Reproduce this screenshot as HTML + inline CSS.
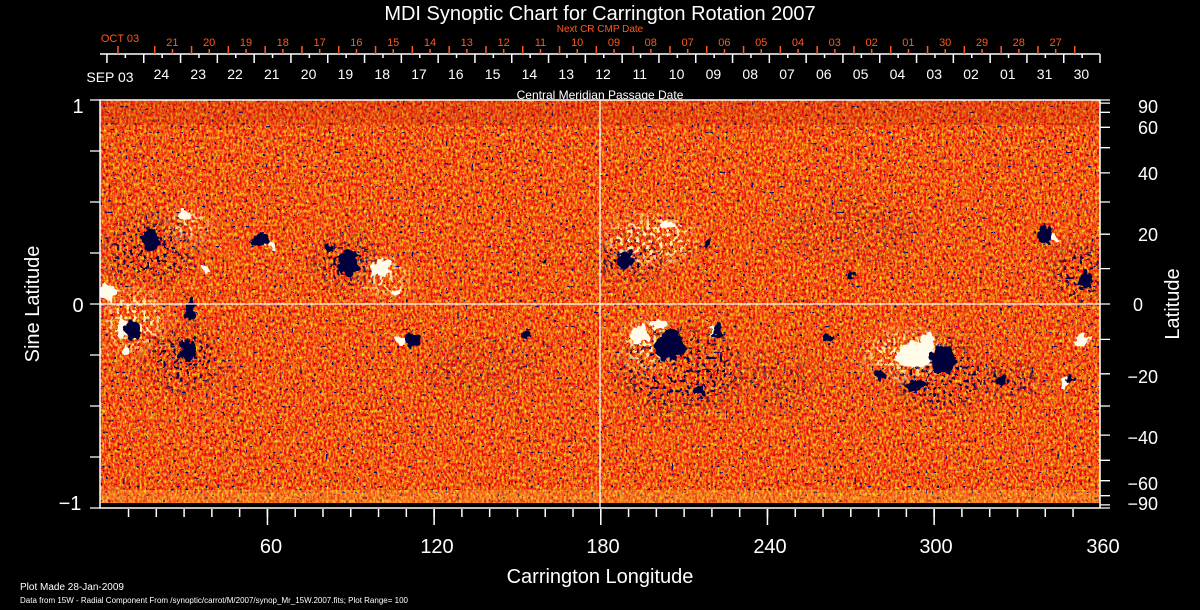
<!DOCTYPE html>
<html><head><meta charset="utf-8"><style>
html,body{margin:0;padding:0;background:#000;}
svg{display:block}
text{font-family:"Liberation Sans",sans-serif;}
filter{color-interpolation-filters:sRGB}
</style></head><body>
<svg width="1200" height="610" viewBox="0 0 1200 610" xmlns="http://www.w3.org/2000/svg">
<defs>
<filter id="tex" x="0" y="0" width="100%" height="100%" color-interpolation-filters="sRGB">
<feTurbulence type="fractalNoise" baseFrequency="0.45 0.3" numOctaves="2" seed="3" result="n"/>
<feColorMatrix in="n" type="matrix" values="0 0 0 0 0.95  1.7 0 0 0 -0.5  0 0 0 0 0.08  0 0 0 0 1"/>
</filter>
<filter id="dots" x="0" y="0" width="100%" height="100%" color-interpolation-filters="sRGB">
<feTurbulence type="fractalNoise" baseFrequency="0.35" numOctaves="1" seed="11"/>
<feColorMatrix type="matrix" values="0 0 0 0 0.02  0 0 0 0 0.02  0 0 0 0 0.4  3 0 0 0 -1.3"/>
<feComponentTransfer><feFuncA type="discrete" tableValues="0 0 0 0 1"/></feComponentTransfer>
</filter>
<filter id="dots2" x="0" y="0" width="100%" height="100%" color-interpolation-filters="sRGB">
<feTurbulence type="fractalNoise" baseFrequency="0.3" numOctaves="1" seed="17"/>
<feColorMatrix type="matrix" values="0 0 0 0 0.0  0 0 0 0 0.0  0 0 0 0 0.3  3 0 0 0 -1.03"/>
<feComponentTransfer><feFuncA type="discrete" tableValues="0 0 0 0 1"/></feComponentTransfer>
</filter>
<filter id="ydots" x="0" y="0" width="100%" height="100%" color-interpolation-filters="sRGB">
<feTurbulence type="fractalNoise" baseFrequency="0.4" numOctaves="1" seed="29"/>
<feColorMatrix type="matrix" values="0 0 0 0 1  0 0 0 0 0.8  0 0 0 0 0.3  3 0 0 0 -1.3"/>
<feComponentTransfer><feFuncA type="discrete" tableValues="0 0 0 0 0.8"/></feComponentTransfer>
</filter>
<filter id="wdots" x="0" y="0" width="100%" height="100%" color-interpolation-filters="sRGB">
<feTurbulence type="fractalNoise" baseFrequency="0.3" numOctaves="1" seed="41"/>
<feColorMatrix type="matrix" values="0 0 0 0 1  0 0 0 0 0.95  0 0 0 0 0.7  3 0 0 0 -0.95"/>
<feComponentTransfer><feFuncA type="discrete" tableValues="0 0 0 0 1"/></feComponentTransfer>
</filter>
<filter id="rough" x="-20%" y="-20%" width="140%" height="140%" color-interpolation-filters="sRGB">
<feTurbulence type="fractalNoise" baseFrequency="0.15" numOctaves="2" seed="5" result="t"/>
<feDisplacementMap in="SourceGraphic" in2="t" scale="12" xChannelSelector="R" yChannelSelector="G"/>
</filter>
<filter id="blur8"><feGaussianBlur stdDeviation="8"/></filter>
<mask id="mdark">
<g fill="#fff" filter="url(#blur8)">
<ellipse cx="150" cy="250" rx="45" ry="30"/><ellipse cx="185" cy="360" rx="40" ry="30"/><ellipse cx="345" cy="262" rx="30" ry="25"/>
<ellipse cx="630" cy="260" rx="35" ry="22"/><ellipse cx="680" cy="370" rx="60" ry="40"/><ellipse cx="940" cy="375" rx="45" ry="35"/>
<ellipse cx="1080" cy="275" rx="25" ry="30"/><ellipse cx="1010" cy="380" rx="30" ry="15"/>
<ellipse cx="780" cy="380" rx="40" ry="25" opacity="0.5"/>
<ellipse cx="850" cy="230" rx="70" ry="30" opacity="0.35"/><ellipse cx="480" cy="370" rx="60" ry="25" opacity="0.35"/>
</g>
</mask>
<mask id="mwhite">
<g fill="#fff" filter="url(#blur8)">
<ellipse cx="650" cy="240" rx="45" ry="25"/><ellipse cx="905" cy="355" rx="40" ry="25"/><ellipse cx="135" cy="320" rx="30" ry="30"/>
<ellipse cx="385" cy="278" rx="22" ry="18"/><ellipse cx="645" cy="345" rx="25" ry="25"/><ellipse cx="190" cy="225" rx="20" ry="15"/>
</g>
</mask>
<clipPath id="pc"><rect x="100" y="100" width="1000" height="403"/></clipPath>
</defs>

<text x="600" y="20" font-size="20" fill="#fff" text-anchor="middle">MDI Synoptic Chart for Carrington Rotation 2007</text>
<text x="600" y="32" font-size="10" fill="#ff5a1e" text-anchor="middle">Next CR CMP Date</text>

<line x1="100" y1="54" x2="1100" y2="54" stroke="#fff" stroke-width="1.5"/>
<line x1="1100" y1="54" x2="1100" y2="63" stroke="#fff" stroke-width="1.5"/>
<line x1="106.2" y1="58.5" x2="1100" y2="58.5" stroke="#fff" stroke-width="9" stroke-dasharray="1.5 35.3"/>
<line x1="124.6" y1="56" x2="1100" y2="56" stroke="#fff" stroke-width="4" stroke-dasharray="1.5 35.3"/>
<line x1="117.2" y1="50" x2="1100" y2="50" stroke="#ff5a1e" stroke-width="8" stroke-dasharray="1.5 35.3"/>
<line x1="171.7" y1="51.5" x2="1060" y2="51.5" stroke="#ff5a1e" stroke-width="5" stroke-dasharray="1.5 35.3"/>

<g font-size="11" fill="#ff5a1e" text-anchor="middle">
<text x="120" y="42">OCT 03</text>
<text x="1055.6" y="46">27</text><text x="1018.8" y="46">28</text><text x="982" y="46">29</text><text x="945.2" y="46">30</text><text x="908.4" y="46">01</text><text x="871.6" y="46">02</text><text x="834.8" y="46">03</text><text x="798" y="46">04</text><text x="761.2" y="46">05</text><text x="724.4" y="46">06</text><text x="687.6" y="46">07</text><text x="650.8" y="46">08</text><text x="614" y="46">09</text><text x="577.2" y="46">10</text><text x="540.4" y="46">11</text><text x="503.6" y="46">12</text><text x="466.8" y="46">13</text><text x="430" y="46">14</text><text x="393.2" y="46">15</text><text x="356.4" y="46">16</text><text x="319.6" y="46">17</text><text x="282.8" y="46">18</text><text x="246" y="46">19</text><text x="209.2" y="46">20</text><text x="172.4" y="46">21</text>
</g>
<g font-size="14" fill="#fff" text-anchor="middle">
<text x="110" y="82">SEP 03</text>
<text x="1081.4" y="79">30</text><text x="1044.6" y="79">31</text><text x="1007.8" y="79">01</text><text x="971" y="79">02</text><text x="934.2" y="79">03</text><text x="897.4" y="79">04</text><text x="860.6" y="79">05</text><text x="823.8" y="79">06</text><text x="787" y="79">07</text><text x="750.2" y="79">08</text><text x="713.4" y="79">09</text><text x="676.6" y="79">10</text><text x="639.8" y="79">11</text><text x="603" y="79">12</text><text x="566.2" y="79">13</text><text x="529.4" y="79">14</text><text x="492.6" y="79">15</text><text x="455.8" y="79">16</text><text x="419" y="79">17</text><text x="382.2" y="79">18</text><text x="345.4" y="79">19</text><text x="308.6" y="79">20</text><text x="271.8" y="79">21</text><text x="235" y="79">22</text><text x="198.2" y="79">23</text><text x="161.4" y="79">24</text>
</g>
<text x="600" y="99" font-size="12" fill="#fff" text-anchor="middle">Central Meridian Passage Date</text>

<rect x="100" y="100" width="1000" height="408" fill="#000"/>
<g clip-path="url(#pc)">
<rect x="100" y="100" width="1000" height="403" fill="#f05a1e"/>
<rect x="100" y="100" width="1000" height="403" filter="url(#tex)"/>
<rect x="100" y="100" width="1000" height="403" filter="url(#ydots)"/>
<rect x="100" y="100" width="1000" height="403" filter="url(#dots)"/>
<rect x="100" y="100" width="1000" height="403" filter="url(#dots2)" mask="url(#mdark)"/>
<rect x="100" y="100" width="1000" height="403" filter="url(#wdots)" mask="url(#mwhite)"/>
<rect x="100" y="100" width="1000" height="25" fill="#c02008" opacity="0.25"/>
<rect x="100" y="490" width="1000" height="13" fill="#ffd040" opacity="0.25"/>
<g filter="url(#rough)" fill="#fffbe8">
<ellipse cx="108" cy="292" rx="9" ry="7"/><ellipse cx="122" cy="328" rx="5" ry="9"/><ellipse cx="380" cy="268" rx="11" ry="9"/><ellipse cx="395" cy="292" rx="6" ry="5"/>
<ellipse cx="185" cy="215" rx="6" ry="5"/><ellipse cx="272" cy="245" rx="5" ry="4"/><ellipse cx="640" cy="335" rx="9" ry="9"/><ellipse cx="660" cy="325" rx="7" ry="5"/>
<ellipse cx="915" cy="355" rx="18" ry="13"/><ellipse cx="928" cy="342" rx="7" ry="9"/><ellipse cx="1082" cy="340" rx="8" ry="6"/><ellipse cx="1065" cy="382" rx="4" ry="4"/>
<ellipse cx="715" cy="330" rx="5" ry="5"/><ellipse cx="205" cy="270" rx="4" ry="4"/><ellipse cx="400" cy="340" rx="4" ry="5"/><ellipse cx="1055" cy="238" rx="4" ry="5"/>
<ellipse cx="670" cy="225" rx="9" ry="4"/><ellipse cx="125" cy="350" rx="4" ry="5"/>
</g>
<g filter="url(#rough)" fill="#00003c">
<ellipse cx="133" cy="330" rx="8" ry="9"/><ellipse cx="187" cy="350" rx="8" ry="11"/><ellipse cx="260" cy="240" rx="8" ry="6"/><ellipse cx="348" cy="262" rx="11" ry="13"/>
<ellipse cx="328" cy="248" rx="5" ry="4"/><ellipse cx="412" cy="340" rx="9" ry="6"/><ellipse cx="527" cy="335" rx="4" ry="4"/><ellipse cx="670" cy="345" rx="15" ry="15"/>
<ellipse cx="718" cy="330" rx="5" ry="6"/><ellipse cx="828" cy="338" rx="6" ry="4"/><ellipse cx="943" cy="360" rx="12" ry="14"/><ellipse cx="915" cy="385" rx="11" ry="5"/>
<ellipse cx="1045" cy="235" rx="7" ry="9"/><ellipse cx="1085" cy="280" rx="6" ry="9"/><ellipse cx="625" cy="260" rx="9" ry="9"/><ellipse cx="545" cy="262" rx="3" ry="3"/>
<ellipse cx="852" cy="275" rx="3" ry="4"/><ellipse cx="150" cy="240" rx="9" ry="10"/><ellipse cx="707" cy="245" rx="3" ry="4"/><ellipse cx="190" cy="310" rx="5" ry="12"/>
<ellipse cx="1000" cy="380" rx="5" ry="4"/><ellipse cx="1070" cy="380" rx="4" ry="4"/><ellipse cx="880" cy="375" rx="5" ry="7"/><ellipse cx="700" cy="390" rx="5" ry="4"/>
</g>
</g>

<line x1="600" y1="100" x2="600" y2="508" stroke="#fff" stroke-width="1.3"/>
<line x1="90" y1="304" x2="1110" y2="304" stroke="#fff" stroke-width="1.3"/>
<rect x="100" y="100" width="1000" height="408" fill="none" stroke="#fff" stroke-width="1.5"/>

<path d="M90 100H100M90 151H100M90 202H100M90 253H100M90 355H100M90 406H100M90 457H100M90 508H100" stroke="#fff" stroke-width="1.3"/>
<path d="M1100 100H1110M1100 103.1H1110M1100 112.3H1110M1100 127.3H1110M1100 147.7H1110M1100 172.9H1110M1100 202H1110M1100 234.2H1110M1100 268.6H1110M1100 339.4H1110M1100 373.8H1110M1100 406H1110M1100 435.1H1110M1100 460.3H1110M1100 480.7H1110M1100 495.7H1110M1100 504.9H1110M1100 508H1110" stroke="#fff" stroke-width="1.3"/>
<line x1="127.78" y1="513" x2="1100" y2="513" stroke="#fff" stroke-width="8" stroke-dasharray="1.5 26.28"/>
<line x1="266.7" y1="517" x2="1100" y2="517" stroke="#fff" stroke-width="16" stroke-dasharray="1.5 165.17"/>

<g font-size="20" fill="#fff">
<text x="78" y="113" text-anchor="middle">1</text>
<text x="78" y="312" text-anchor="middle">0</text>
<text x="70" y="510" text-anchor="middle">−1</text>
</g>
<g font-size="18" fill="#fff" text-anchor="end">
<text x="1158" y="113">90</text><text x="1158" y="134">60</text><text x="1158" y="180">40</text><text x="1158" y="241">20</text>
<text x="1143" y="311">0</text><text x="1158" y="383">−20</text><text x="1158" y="444">−40</text><text x="1158" y="490">−60</text><text x="1158" y="510">−90</text>
</g>
<g font-size="20" fill="#fff" text-anchor="middle">
<text x="271" y="553">60</text><text x="437" y="553">120</text><text x="603" y="553">180</text><text x="770" y="553">240</text><text x="936" y="553">300</text><text x="1103" y="553">360</text>
</g>
<text x="600" y="583" font-size="20" fill="#fff" text-anchor="middle">Carrington Longitude</text>
<text transform="translate(39,304) rotate(-90)" font-size="20" fill="#fff" text-anchor="middle">Sine Latitude</text>
<text transform="translate(1179,304) rotate(-90)" font-size="20" fill="#fff" text-anchor="middle">Latitude</text>

<text x="20" y="590" font-size="10" fill="#fff">Plot Made 28-Jan-2009</text>
<text x="20" y="603" font-size="8" fill="#fff">Data from 15W - Radial Component From /synoptic/carrot/M/2007/synop_Mr_15W.2007.fits; Plot Range=  100</text>
</svg>
</body></html>
